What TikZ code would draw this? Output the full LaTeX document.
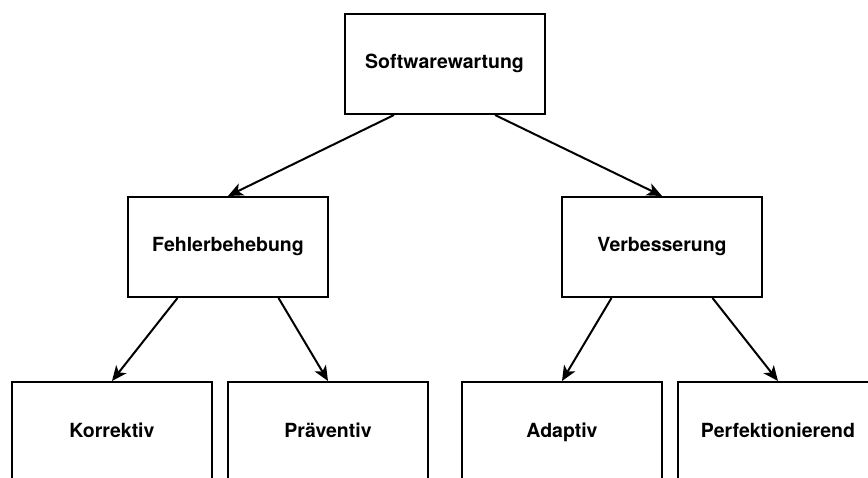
\documentclass[tikz,border=0pt]{standalone}
\usepackage{fontspec}
\setmainfont{TeX Gyre Heros}
\usetikzlibrary{arrows.meta,calc}
\tikzset{
  kasten/.style={draw, line width=2pt, minimum width=200pt, minimum height=100pt,
    inner sep=0pt, text height=14pt, text depth=4pt,
    font=\fontsize{19.5}{23}\selectfont\bfseries},
  pfeil/.style={line width=2pt, -{Stealth[length=15pt,width=13pt,inset=4pt]}}
}
\begin{document}
\begin{tikzpicture}[x=1pt,y=-1pt]
\useasboundingbox (0,0) rectangle (868,478);
\node[kasten] (wartung) at (444.5,64) {Softwarewartung};
\node[kasten] (fehler) at (228,247) {Fehlerbehebung};
\node[kasten] (verbess) at (662,247) {Verbesserung};
\node[kasten] (korr) at (112,432) {Korrektiv};
\node[kasten] (praev) at (328,432) {Präventiv};
\node[kasten] (adapt) at (562,432) {Adaptiv};
\node[kasten] (perf) at (778,432) {Perfektionierend};
\draw[pfeil] ($(wartung.south)!0.5!(wartung.south west)$) -- (fehler.north);
\draw[pfeil] ($(wartung.south)!0.5!(wartung.south east)$) -- (verbess.north);
\draw[pfeil] ($(fehler.south)!0.5!(fehler.south west)$) -- (korr.north);
\draw[pfeil] ($(fehler.south)!0.5!(fehler.south east)$) -- (praev.north);
\draw[pfeil] ($(verbess.south)!0.5!(verbess.south west)$) -- (adapt.north);
\draw[pfeil] ($(verbess.south)!0.5!(verbess.south east)$) -- (perf.north);
\end{tikzpicture}
\end{document}
